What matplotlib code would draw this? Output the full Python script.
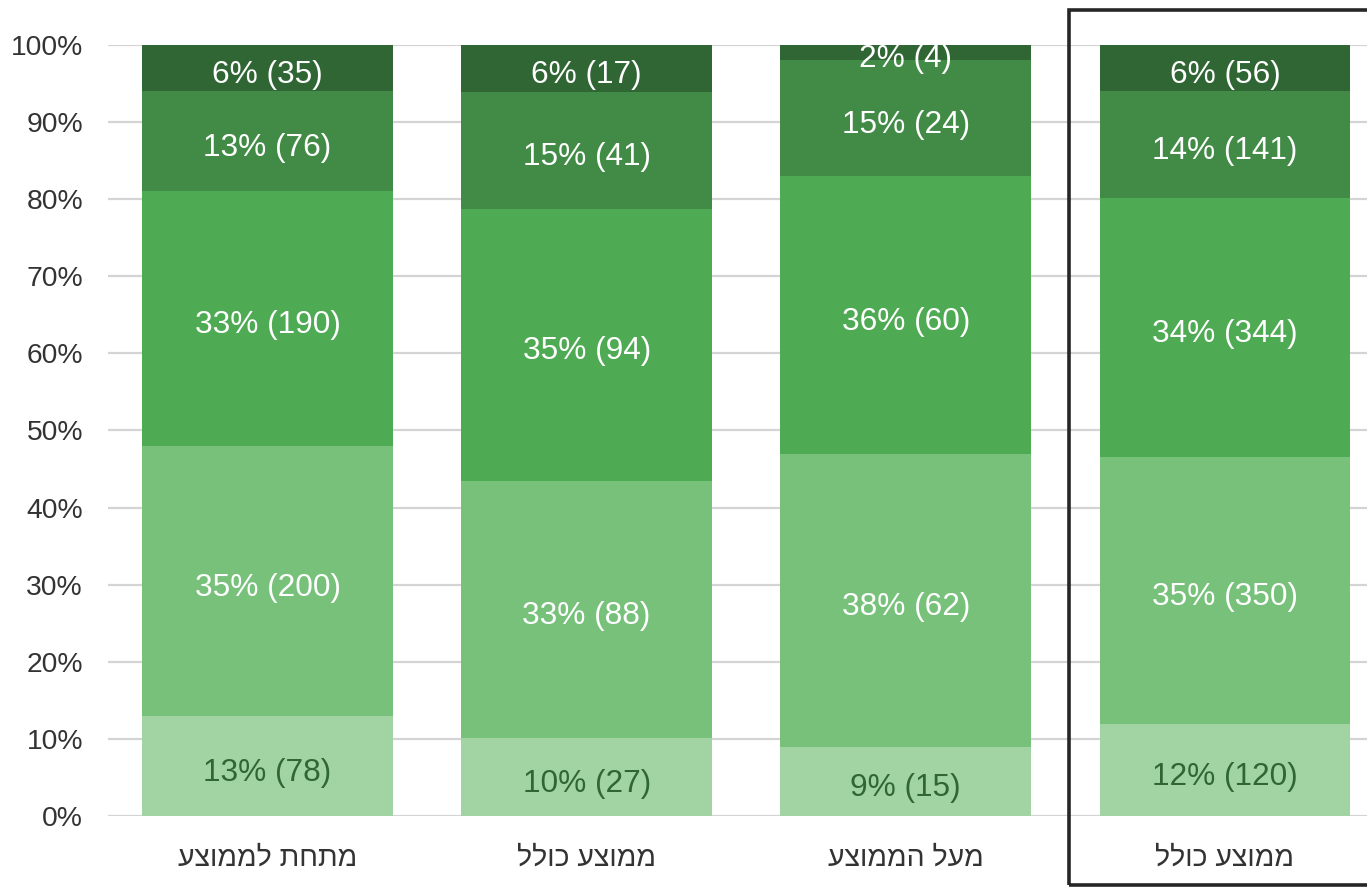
import matplotlib
matplotlib.use("Agg")
import matplotlib.pyplot as plt
import matplotlib.transforms as mtransforms
from matplotlib.patches import Rectangle
import numpy as np

plt.rcParams['font.family'] = ['Liberation Sans', 'DejaVu Sans']

categories = ["מתחת לממוצע", "ממוצע כולל", "מעל הממוצע", "ממוצע כולל"]
# displayed percentages per segment, bottom to top
pct1 = [13, 10, 9, 12]
pct2 = [35, 33, 38, 35]
pct3 = [33, 35, 36, 34]
pct4 = [13, 15, 15, 14]
pct5 = [6, 6, 2, 6]
# counts per segment, bottom to top
cnt1 = [78, 27, 15, 120]
cnt2 = [200, 88, 62, 350]
cnt3 = [190, 94, 60, 344]
cnt4 = [76, 41, 24, 141]
cnt5 = [35, 17, 4, 56]
pct_series = [pct1, pct2, pct3, pct4, pct5]
cnt_series = [cnt1, cnt2, cnt3, cnt4, cnt5]
colors = ["#a2d4a3", "#77c17b", "#4eaa53", "#428b46", "#2f6634"]
label_colors = ["#2f6634", "white", "white", "white", "white"]
yticks = [0, 10, 20, 30, 40, 50, 60, 70, 80, 90, 100]

W, H = 1367, 888
fig = plt.figure(figsize=(W / 100, H / 100), dpi=100)
ax = fig.add_axes([108 / W, 72 / H, (1384.5 - 108) / W, (816 - 45) / H])

pct = np.array(pct_series, dtype=float)
heights = pct / pct.sum(axis=0) * 100  # 100% stacked
x = np.arange(len(categories))
bottom = np.zeros(len(categories))
for i in range(len(pct_series)):
    ax.bar(x, heights[i], bottom=bottom, width=0.786, color=colors[i], zorder=2,
           edgecolor=colors[i], linewidth=0)
    for j in range(len(categories)):
        ax.annotate(f"{pct_series[i][j]}% ({cnt_series[i][j]})",
                    xy=(x[j], bottom[j] + heights[i][j] / 2), xytext=(0, -4.8),
                    textcoords='offset points',
                    ha='center', va='center', fontsize=22.8, color=label_colors[i], zorder=3)
    bottom += heights[i]

ax.set_xlim(-0.5, len(categories) - 0.5)
ax.set_ylim(0, 100)
ax.set_yticks(yticks)
ax.set_yticklabels([f"{t}%" for t in yticks], fontsize=20.3, color="#333333")
ax.set_xticks(x)
ax.set_xticklabels([c[::-1] for c in categories], fontsize=20.5, color="#333333")
ax.tick_params(axis='both', length=0)
ax.tick_params(axis='y', pad=18)
ax.tick_params(axis='x', pad=21)
ax.grid(axis='y', color="#d4d4d4", linewidth=1.6, zorder=0)
ax.set_axisbelow(True)
for s in ax.spines.values():
    s.set_visible(False)

# highlight box around the last category
trans = mtransforms.blended_transform_factory(ax.transData, fig.transFigure)
rect = Rectangle((2.51, 3 / H), 2.0, (885 - 10) / H, transform=trans,
                 fill=False, edgecolor="#262626", linewidth=2.6, clip_on=False, zorder=5)
fig.patches.append(rect)
rect.set_figure(fig)

fig.savefig("out.png", dpi=100)
